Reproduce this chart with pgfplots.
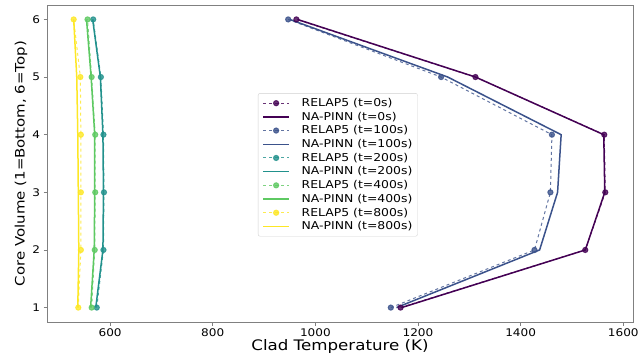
\documentclass[border=0pt]{standalone}
\usepackage{pgfplots}
\pgfplotsset{compat=1.18}
\usepackage{fontspec}
\setmainfont{DejaVu Sans}[FakeStretch=1.15]
\definecolor{v0}{HTML}{440154}
\definecolor{v1}{HTML}{3B528B}
\definecolor{v2}{HTML}{21918C}
\definecolor{v3}{HTML}{5EC962}
\definecolor{v4}{HTML}{FDE725}
\definecolor{axgray}{HTML}{808080}
\begin{document}
\begin{tikzpicture}
\begin{axis}[
  scale only axis, width=586pt, height=317pt,
  xmin=477, xmax=1619, ymin=0.75, ymax=6.25,
  xtick={600,800,1000,1200,1400,1600},
  ytick={1,2,3,4,5,6},
  tick align=outside, tick pos=left,
  major tick length=3.5pt,
  every tick/.style={axgray, line width=0.6pt},
  axis line style={axgray, line width=0.8pt},
  tick label style={font=\fontsize{10.5}{12}\selectfont},
  /pgf/number format/assume math mode=true,
  /pgf/number format/1000 sep={},
  xlabel={Clad Temperature (K)},
  ylabel={Core Volume (1=Bottom, 6=Top)},
  xlabel style={font=\fontsize{14.5}{16}\selectfont, yshift=4pt},
  ylabel style={font=\fontsize{13}{15}\selectfont, yshift=-2pt},
  legend style={at={(0.36,0.722)}, anchor=north west, font=\fontsize{10.8}{12}\selectfont,
    draw=black!18, rounded corners=2pt, row sep=0pt, inner sep=3pt},
  legend cell align=left,
  relap/.style={dashed, line width=1pt, mark=*, mark size=2.6pt, opacity=0.8, mark options={solid},
    legend image code/.code={\draw[mark repeat=2,mark phase=2,##1] plot coordinates {(0cm,0cm) (0.45cm,0cm) (0.9cm,0cm)};
      \path (-0.05cm,0cm) (1.25cm,0cm);}},
  pinn/.style={solid, line width=1.5pt, no marks,
    legend image code/.code={\draw[##1] (0cm,0cm) -- (0.9cm,0cm); \path (-0.05cm,0cm) (1.25cm,0cm);}},
]
\addplot[relap, color=v0] coordinates {(1166,1) (1526,2) (1565,3) (1563,4) (1312,5) (963,6)};
\addlegendentry{RELAP5 (t=0s)}
\addplot[pinn, color=v0] coordinates {(1168,1) (1526,2) (1564,3) (1562,4) (1312,5) (965,6)};
\addlegendentry{NA-PINN (t=0s)}
\addplot[relap, color=v1] coordinates {(1147,1) (1427,2) (1458,3) (1461,4) (1245,5) (947,6)};
\addlegendentry{RELAP5 (t=100s)}
\addplot[pinn, color=v1] coordinates {(1158,1) (1437,2) (1472,3) (1479,4) (1258,5) (950,6)};
\addlegendentry{NA-PINN (t=100s)}
\addplot[relap, color=v2] coordinates {(574,1) (587,2) (588,3) (587,4) (582,5) (567,6)};
\addlegendentry{RELAP5 (t=200s)}
\addplot[pinn, color=v2] coordinates {(572,1) (586,2) (587,3) (586,4) (581,5) (566,6)};
\addlegendentry{NA-PINN (t=200s)}
\addplot[relap, color=v3] coordinates {(564,1) (570,2) (571,3) (571,4) (564,5) (556,6)};
\addlegendentry{RELAP5 (t=400s)}
\addplot[pinn, color=v3] coordinates {(562,1) (569,2) (570,3) (570,4) (563,5) (554,6)};
\addlegendentry{NA-PINN (t=400s)}
\addplot[relap, color=v4] coordinates {(538,1) (543,2) (543,3) (543,4) (542,5) (529,6)};
\addlegendentry{RELAP5 (t=800s)}
\addplot[pinn, color=v4] coordinates {(537,1) (539,2) (538,3) (537,4) (535,5) (529,6)};
\addlegendentry{NA-PINN (t=800s)}
\end{axis}
\pgfresetboundingbox
\path[use as bounding box] ([shift={(-47pt,-34pt)}]current axis.south west) rectangle ([shift={(9pt,5pt)}]current axis.north east);
\end{tikzpicture}
\end{document}
